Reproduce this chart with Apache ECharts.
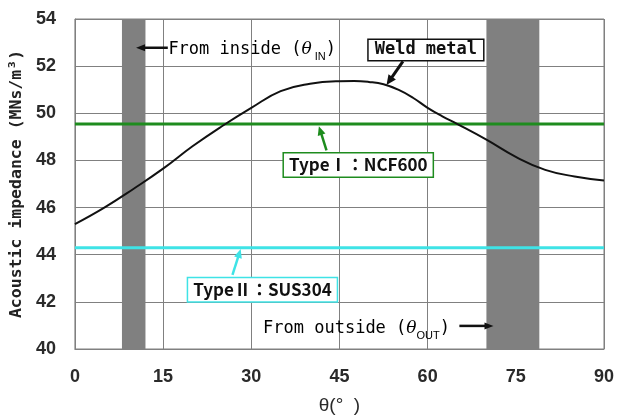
<!DOCTYPE html>
<html>
<head>
<meta charset="utf-8">
<script src="https://cdn.jsdelivr.net/npm/echarts@6/dist/echarts.min.js"></script>
<style>
  html, body { margin: 0; padding: 0; background: #fff; }
  #chart { width: 617px; height: 420px; }
</style>
</head>
<body>
<div id="chart"></div>
<script>
// Incidence angle (deg) and acoustic impedance of the weld metal (MNs/m^3)
const angles = [0, 5, 10, 15, 20, 25, 30, 35, 40, 45, 47.5, 50, 52.5, 55, 57.5, 60, 62.5, 65, 70, 75, 80, 85, 90];
const weldMetal = [45.3, 46.0, 46.8, 47.65, 48.6, 49.45, 50.23, 50.94, 51.25, 51.36, 51.37, 51.33, 51.23, 51.0, 50.66, 50.23, 49.87, 49.55, 48.88, 48.15, 47.6, 47.32, 47.15];

// Base metals (constant impedance)
const ncf600 = 49.55;
const sus304 = 44.3;

// Angle ranges that cannot be reached from inside / outside
const insideBand = [8, 12];
const outsideBand = [70, 79];

const GREEN = '#1e8c1e';
const CYAN = '#3fe3e6';
const GREY = '#808080';
const MONO = "'DejaVu Sans Mono','Liberation Mono',monospace";
const TICK = "'Liberation Sans','DejaVu Sans',sans-serif";
const CJK = "'Noto Sans CJK JP','Noto Sans',sans-serif";

const chart = echarts.init(document.getElementById('chart'), null, { renderer: 'canvas' });

const axisCommon = {
  axisLine: { show: true, lineStyle: { color: GREY, width: 1 } },
  axisTick: { show: false },
  splitLine: { show: true, lineStyle: { color: GREY, width: 1 } },
  axisLabel: { color: '#2a2a2a', fontSize: 18, fontWeight: 'bold', fontFamily: TICK }
};

chart.setOption({
  animation: false,
  backgroundColor: '#fff',
  grid: { left: 73, right: 11, top: 19, bottom: 66, show: true, borderColor: GREY, borderWidth: 1 },
  xAxis: Object.assign({}, axisCommon, {
    type: 'value', min: 0, max: 90, interval: 15,
    axisLabel: Object.assign({}, axisCommon.axisLabel, { margin: 19 }),
    name: 'θ(°  )', nameLocation: 'middle', nameGap: 47,
    nameTextStyle: { color: '#2a2a2a', fontSize: 19, fontFamily: TICK }
  }),
  yAxis: Object.assign({}, axisCommon, {
    type: 'value', min: 40, max: 54, interval: 2,
    axisLabel: Object.assign({}, axisCommon.axisLabel, { margin: 19 }),
    name: 'Acoustic impedance (MNs/m³)', nameLocation: 'middle', nameGap: 42, nameRotate: 90,
    nameTextStyle: { color: '#222', fontSize: 16.5, fontWeight: 'bold', fontFamily: MONO }
  }),
  series: [
    {
      type: 'line', silent: true, symbol: 'none', data: [],
      markArea: {
        silent: true,
        itemStyle: { color: GREY, opacity: 1 },
        data: [
          [{ xAxis: insideBand[0] }, { xAxis: insideBand[1] }],
          [{ xAxis: outsideBand[0] }, { xAxis: outsideBand[1] }]
        ]
      }
    },
    {
      name: 'NCF600', type: 'line', symbol: 'none',
      lineStyle: { color: GREEN, width: 3 },
      data: [[angles[0], ncf600], [angles[angles.length - 1], ncf600]]
    },
    {
      name: 'SUS304', type: 'line', symbol: 'none',
      lineStyle: { color: CYAN, width: 3 },
      data: [[angles[0], sus304], [angles[angles.length - 1], sus304]]
    },
    {
      name: 'Weld metal', type: 'line', symbol: 'none', smooth: 0.45,
      lineStyle: { color: '#111', width: 2 },
      data: angles.map((a, i) => [a, weldMetal[i]]),
      z: 5
    }
  ]
});

// ---- annotations placed in data coordinates ----
const P = (x, y) => chart.convertToPixel({ gridIndex: 0 }, [x, y]);

function arrow(from, to, color, width, headLen, headW) {
  const a = P(from[0], from[1]);
  const b = P(to[0], to[1]);
  const dx = b[0] - a[0], dy = b[1] - a[1];
  const len = Math.hypot(dx, dy);
  const ux = dx / len, uy = dy / len;
  const bx = b[0] - ux * headLen, by = b[1] - uy * headLen;
  return [
    { type: 'line', z: 20, shape: { x1: a[0], y1: a[1], x2: bx + ux, y2: by + uy },
      style: { stroke: color, lineWidth: width } },
    { type: 'polygon', z: 20, shape: { points: [
        [b[0], b[1]],
        [bx - uy * headW, by + ux * headW],
        [bx + uy * headW, by - ux * headW]
      ] }, style: { fill: color } }
  ];
}

function box(center, text, color, font, pad) {
  const c = P(center[0], center[1]);
  return {
    type: 'text', z: 25, x: c[0], y: c[1],
    style: {
      text: text, font: font, fill: '#111',
      align: 'center', verticalAlign: 'middle',
      backgroundColor: '#fff', borderColor: color, borderWidth: 1.5,
      padding: pad
    }
  };
}

const subRich = {
  t: { fontFamily: MONO, fontSize: 17, color: '#111', verticalAlign: 'top', lineHeight: 21 },
  th: { fontFamily: "'DejaVu Serif',serif", fontStyle: 'italic', fontSize: 17, color: '#111', verticalAlign: 'top', lineHeight: 21 },
  s: { fontFamily: TICK, fontSize: 11, color: '#111', verticalAlign: 'bottom', lineHeight: 21 }
};

function labelText(pos, parts) {
  const p = P(pos[0], pos[1]);
  return {
    type: 'text', z: 25, x: p[0], y: p[1],
    style: {
      rich: subRich, text: parts,
      align: 'left', verticalAlign: 'middle'
    }
  };
}

const g = [];
// Weld metal label
g.push(box([59.7, 52.69], 'Weld metal', '#111', "bold 17px " + MONO, [2, 6, 1, 6]));
g.push(...arrow([55.8, 52.2], [53.0, 51.2], '#111', 3, 10, 4.5));
// Type I : NCF600
g.push(box([48.2, 47.81], 'TypeⅠ：NCF600', GREEN, "bold 17px " + CJK, [3, 5, 3, 5]));
g.push(...arrow([42.8, 48.43], [41.5, 49.45], GREEN, 2.5, 9, 4));
// Type II : SUS304
g.push(box([31.9, 42.51], 'TypeⅡ：SUS304', CYAN, "bold 17px " + CJK, [3, 5, 3, 5]));
g.push(...arrow([26.8, 43.14], [28.2, 44.24], CYAN, 2.5, 9, 4));
// Direction labels
g.push(labelText([15.9, 52.62], '{t|From inside (}{th|θ}{s| IN}{t|)}'));
g.push(...arrow([15.8, 52.78], [10.4, 52.78], '#111', 2.5, 9, 3.5));
g.push(labelText([32.0, 40.78], '{t|From outside (}{th|θ}{s|OUT}{t|)}'));
g.push(...arrow([65.4, 40.98], [71.2, 40.98], '#111', 2.5, 9, 3.5));

chart.setOption({ graphic: g });
</script>
</body>
</html>
